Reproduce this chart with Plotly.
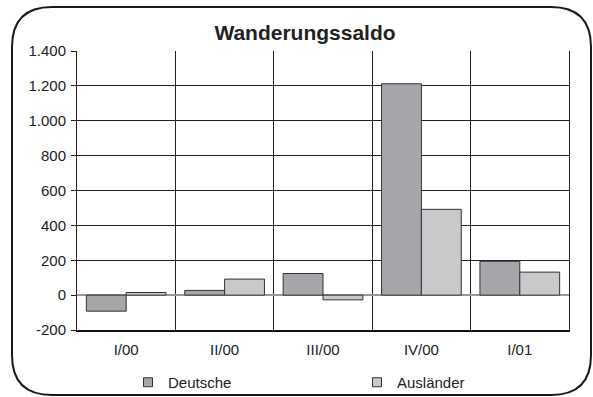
import plotly.graph_objects as go

categories = ["I/00", "II/00", "III/00", "IV/00", "I/01"]
deutsche = [-92, 27, 124, 1212, 194]
auslaender = [15, 92, -27, 492, 132]
series_names = ["Deutsche", "Ausländer"]
series_colors = ["#a5a6aa", "#c8c9cb"]
y_tickvals = [-200, 0, 200, 400, 600, 800, 1000, 1200, 1400]
y_ticktext = [f"{v:,}".replace(",", ".") for v in y_tickvals]

W, H = 593, 397
L, R, T, B = 77, 24, 51, 67
pw, ph = W - L - R, H - T - B

xs = list(range(len(categories)))

fig = go.Figure()
for name, vals, col in zip(series_names, [deutsche, auslaender], series_colors):
    fig.add_trace(go.Bar(x=xs, y=vals, name=name, showlegend=False, legendgroup=name,
                         marker=dict(color=col, line=dict(color="#333333", width=1))))
for name, col in zip(series_names, series_colors):
    fig.add_trace(go.Scatter(x=[None], y=[None], mode="markers", name=name, legendgroup=name,
                             marker=dict(symbol="square", size=9, color=col,
                                         line=dict(color="#333333", width=1))))

def px_x(p):
    return (p - L) / pw

def px_y(p):
    return (H - B - p) / ph

# rounded frame
x0, x1, y0, y1, r = 12, 591, 7, 395, 40
path = (f"M {px_x(x0+r)},{px_y(y0)} L {px_x(x1-r)},{px_y(y0)} "
        f"Q {px_x(x1)},{px_y(y0)} {px_x(x1)},{px_y(y0+r)} "
        f"L {px_x(x1)},{px_y(y1-r)} Q {px_x(x1)},{px_y(y1)} {px_x(x1-r)},{px_y(y1)} "
        f"L {px_x(x0+r)},{px_y(y1)} Q {px_x(x0)},{px_y(y1)} {px_x(x0)},{px_y(y1-r)} "
        f"L {px_x(x0)},{px_y(y0+r)} Q {px_x(x0)},{px_y(y0)} {px_x(x0+r)},{px_y(y0)} Z")

fig.update_layout(
    width=W, height=H,
    margin=dict(l=L, r=R, t=T, b=B, autoexpand=False),
    paper_bgcolor="white", plot_bgcolor="white",
    font=dict(family="Liberation Sans, Arial, sans-serif", size=15, color="#222222"),
    title=dict(text="<b>Wanderungssaldo</b>", x=305 / W, xanchor="center",
               y=1 - 33 / H, yanchor="middle", font=dict(size=21, color="#222222")),
    barmode="group", bargap=0.19, bargroupgap=0,
    showlegend=True,
    legend=dict(orientation="h", x=px_x(128), xanchor="left", y=px_y(366), yanchor="top",
                entrywidth=184, entrywidthmode="pixels", itemwidth=30, font=dict(size=15),
                bgcolor="rgba(0,0,0,0)"),
    shapes=[dict(type="path", xref="paper", yref="paper", path=path,
                 line=dict(color="#1a1a1a", width=2), fillcolor="rgba(0,0,0,0)", layer="below")],
)

fig.update_xaxes(
    range=[-0.5, len(categories) - 0.5],
    tickvals=xs, ticktext=categories, ticks="", showgrid=False,
    minor=dict(tickvals=[i + 0.5 for i in range(-1, len(categories))], showgrid=True,
               gridcolor="#222222", gridwidth=1, ticks=""),
    showline=True, linecolor="#111111", linewidth=2, mirror=False,
    zeroline=False, ticklabelstandoff=5,
)
fig.update_yaxes(
    range=[-200, 1400], tickvals=y_tickvals, ticktext=y_ticktext,
    ticks="outside", ticklen=5, tickcolor="#222222",
    showgrid=True, gridcolor="#222222", gridwidth=1,
    zeroline=True, zerolinecolor="#999999", zerolinewidth=2,
    showline=True, linecolor="#222222", linewidth=1, mirror=True,
    ticklabelstandoff=2,
)

fig.write_html("out.html", post_script="document.body.style.margin='0px';",
               config={"displayModeBar": False})
